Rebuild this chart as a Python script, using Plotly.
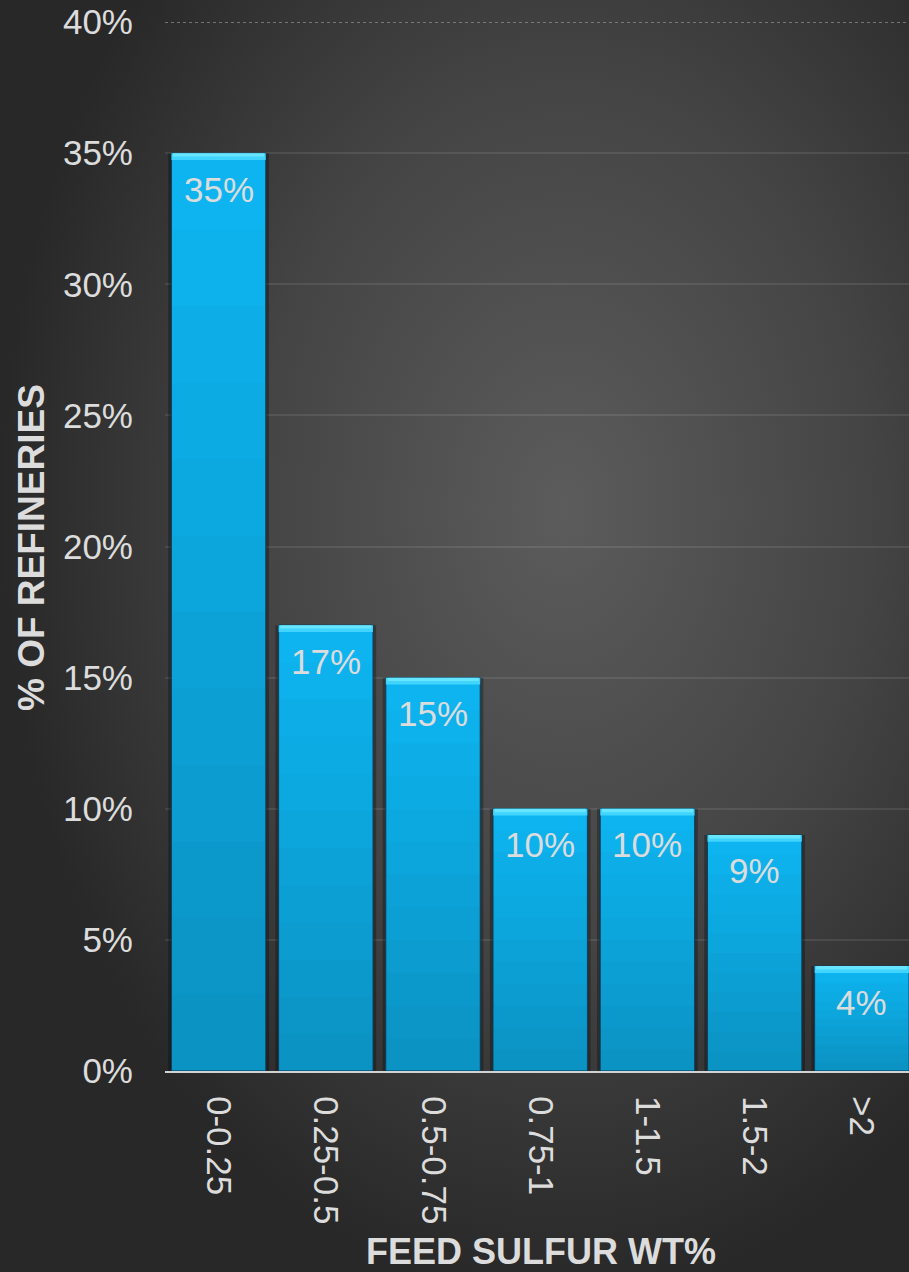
import base64
import plotly.graph_objects as go

# Share of refineries by feed sulfur content band
categories = ["0-0.25", "0.25-0.5", "0.5-0.75", "0.75-1", "1-1.5", "1.5-2", ">2"]
share_pct = [35, 17, 15, 10, 10, 9, 4]
y_ticks = [0, 5, 10, 15, 20, 25, 30, 35, 40]

W, H = 909, 1272
M_L, M_R, M_T, M_B = 165, 0, 22, 201
FONT = "Liberation Sans, Arial, Helvetica, sans-serif"
TXT = "#dcdcdc"
BAR_W = 0.88

fig = go.Figure()

# soft drop shadow behind each bar
fig.add_trace(go.Bar(x=categories, y=share_pct, width=BAR_W + 0.06,
                     marker=dict(color="rgba(0,0,0,0.28)", line=dict(width=0)),
                     hoverinfo="skip"))

# main bar body
fig.add_trace(go.Bar(x=categories, y=share_pct, width=BAR_W,
                     marker=dict(color="#0eb6f2",
                                 line=dict(color="rgba(8,60,90,0.9)", width=1)),
                     hoverinfo="skip"))

# vertical shading: darker towards the base of each bar
N_BANDS = 12
for k in range(N_BANDS):
    frac = (k + 0.5) / N_BANDS
    alpha = 0.2 * (1 - frac)
    fig.add_trace(go.Bar(
        x=categories,
        y=[v / N_BANDS for v in share_pct],
        base=[v * k / N_BANDS for v in share_pct],
        width=BAR_W - 0.01,
        marker=dict(color=f"rgba(0,0,0,{alpha:.3f})", line=dict(width=0)),
        hoverinfo="skip"))

# bevel highlight along the top edge
BEVEL = 0.26
fig.add_trace(go.Bar(x=categories, y=[BEVEL] * len(share_pct),
                     base=[v - BEVEL for v in share_pct], width=BAR_W,
                     marker=dict(color="rgba(70,215,255,0.9)", line=dict(width=0)),
                     hoverinfo="skip"))
fig.add_trace(go.Bar(x=categories, y=[BEVEL * 0.5] * len(share_pct),
                     base=[v - BEVEL * 0.5 for v in share_pct], width=BAR_W - 0.03,
                     marker=dict(color="rgba(110,232,255,0.85)", line=dict(width=0)),
                     hoverinfo="skip"))

# value labels just inside the top of each bar
for c, v in zip(categories, share_pct):
    fig.add_annotation(x=c, y=v, text=f"{v:.0f}%", showarrow=False,
                       yanchor="middle", yshift=-36,
                       font=dict(family=FONT, size=35, color=TXT))

# dotted top boundary at 40%
fig.add_shape(type="line", xref="paper", x0=0, x1=1, yref="y", y0=40, y1=40,
              line=dict(color="#8c8c8c", width=1.5, dash="dot"), layer="below")

# radial background glow
svg = (
    f'<svg xmlns="http://www.w3.org/2000/svg" width="{W}" height="{H}" '
    f'viewBox="0 0 {W} {H}" preserveAspectRatio="none">'
    '<defs><radialGradient id="g" cx="0.62" cy="0.40" r="0.62" '
    'gradientUnits="objectBoundingBox">'
    '<stop offset="0" stop-color="#5c5c5c"/>'
    '<stop offset="0.55" stop-color="#444444"/>'
    '<stop offset="1" stop-color="#282828"/>'
    '</radialGradient></defs>'
    f'<rect width="{W}" height="{H}" fill="url(#g)"/></svg>'
)
src = "data:image/svg+xml;base64," + base64.b64encode(svg.encode()).decode()
pw, ph = W - M_L - M_R, H - M_T - M_B
fig.add_layout_image(dict(source=src, xref="paper", yref="paper",
                          x=-M_L / pw, y=1 + M_T / ph,
                          sizex=W / pw, sizey=H / ph,
                          xanchor="left", yanchor="top",
                          sizing="stretch", layer="below", opacity=1))

# axis titles
fig.add_annotation(text="<b>FEED SULFUR WT%</b>", xref="paper", yref="paper",
                   x=(541 - M_L) / pw, y=-(1251 - (H - M_B)) / ph,
                   showarrow=False, xanchor="center", yanchor="middle",
                   font=dict(family=FONT, size=36, color=TXT))
fig.add_annotation(text="<b>% OF REFINERIES</b>", xref="paper", yref="paper",
                   x=-(M_L - 31) / pw, y=1 - (548 - M_T) / ph, textangle=-90,
                   showarrow=False, xanchor="center", yanchor="middle",
                   font=dict(family=FONT, size=37, color=TXT))

fig.update_layout(
    width=W, height=H,
    margin=dict(l=M_L, r=M_R, t=M_T, b=M_B, pad=0),
    paper_bgcolor="#2e2e2e", plot_bgcolor="rgba(0,0,0,0)",
    barmode="overlay", showlegend=False,
    font=dict(family=FONT, size=35, color=TXT),
)
fig.update_xaxes(
    type="category", range=[-0.5, 6.44],
    tickangle=90, tickfont=dict(family=FONT, size=35, color=TXT),
    ticks="outside", ticklen=16, tickcolor="rgba(0,0,0,0)",
    showline=True, linecolor="#cfd3d6", linewidth=2,
    showgrid=False, zeroline=False,
)
fig.update_yaxes(
    range=[0, 40], tickvals=y_ticks, ticktext=[f"{t}%" for t in y_ticks],
    tickfont=dict(family=FONT, size=35, color=TXT),
    ticks="outside", ticklen=24, tickcolor="rgba(0,0,0,0)",
    showgrid=True, gridcolor="rgba(255,255,255,0.09)", gridwidth=1.5,
    zeroline=False, showline=False,
)

fig.write_html("out.html")
